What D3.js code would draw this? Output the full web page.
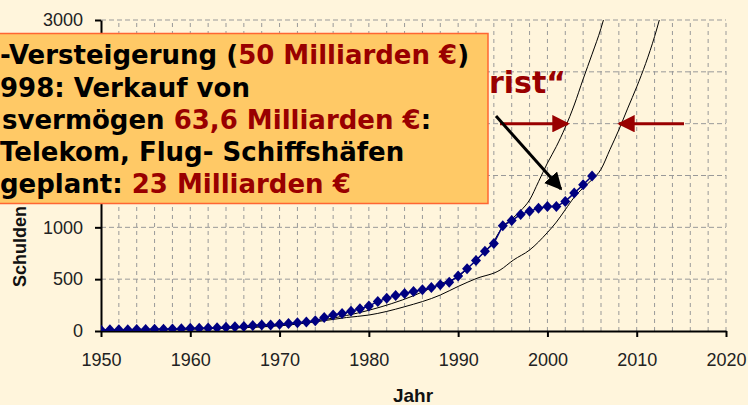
<!DOCTYPE html>
<html>
<head>
<meta charset="utf-8">
<script src="https://cdn.jsdelivr.net/npm/d3@7"></script>
<style>
  html, body { margin: 0; padding: 0; background: #FFF5DC; overflow: hidden; }
  svg { display: block; }
</style>
</head>
<body>
<svg id="chart" width="748" height="405"></svg>
<script>
// ---------------- data ----------------
const years = d3.range(1950, 2006);
const debt = [10, 11, 12, 13, 14, 15, 16, 17, 20, 22,
              26, 27, 29, 31, 35, 40, 44, 52, 57, 59,
              64, 72, 80, 87, 98, 130, 155, 170, 190, 215,
              240, 285, 315, 342, 362, 380, 398, 420, 445, 470,
              530, 600, 680, 770, 845, 1015, 1065, 1125, 1155, 1185,
              1200, 1200, 1250, 1330, 1410, 1495];

// trend curve A (steeper)
const trendAYears  = [1950, 1960, 1970, 1975, 1980, 1985, 1988, 1990, 1992, 1994, 1995, 1996, 1997, 1998, 1999, 2000, 2001, 2002, 2003, 2004, 2005, 2006, 2006.6];
const trendAValues = [5, 20, 55, 110, 200, 340, 455, 525, 685, 870, 1006, 1080, 1160, 1264, 1440, 1620, 1780, 1965, 2180, 2430, 2670, 2920, 3100];

// trend curve B (flatter)
const trendBYears  = [1950, 1960, 1970, 1975, 1977.5, 1980, 1984, 1988, 1990, 1992, 1994.7, 1996.2, 1998, 2000, 2001, 2002, 2003, 2004, 2005, 2006, 2007, 2008, 2009, 2010, 2011, 2012, 2013];
const trendBValues = [5, 18, 50, 100, 130, 154, 234, 347, 430, 505, 588, 685, 781, 950, 1050, 1170, 1290, 1380, 1460, 1560, 1750, 1940, 2150, 2355, 2580, 2840, 3150];

const xTicks = [1950, 1960, 1970, 1980, 1990, 2000, 2010, 2020];
const yTicks = [0, 500, 1000, 1500, 2000, 2500, 3000];
const yLabelled = [0, 500, 1000, 3000];   // the others are covered by the text box
const xGrid = d3.range(1952, 2021, 2);

const boxLines = [
  [["-Versteigerung (", "#000"], ["50 Milliarden €", "#990000"], [")", "#000"]],
  [["998: Verkauf von", "#000"]],
  [["svermögen ", "#000"], ["63,6 Milliarden €", "#990000"], [":", "#000"]],
  [["Telekom, Flug- Schiffshäfen", "#000"]],
  [["geplant: ", "#000"], ["23 Milliarden €", "#990000"]]
];
const titleFragment = "rist\u201C";
const xTitle = "Jahr";
const yTitle = "Schulden";

// ---------------- layout ----------------
const svg = d3.select("#chart");
const x = d3.scaleLinear().domain([1950, 2020]).range([101, 726]);
const y = d3.scaleLinear().domain([0, 3000]).range([331, 20]);

const defs = svg.append("defs");
defs.append("clipPath").attr("id", "plotclip")
  .append("rect").attr("x", x(1950)).attr("y", y(3000))
  .attr("width", x(2020) - x(1950)).attr("height", y(0) - y(3000));

// grid
const grid = svg.append("g");
grid.selectAll("line.v").data(xGrid).join("line")
  .attr("x1", d => x(d)).attr("x2", d => x(d))
  .attr("y1", y(0)).attr("y2", y(3000))
  .attr("stroke", "#999").attr("stroke-width", 1).attr("stroke-dasharray", "4,4");
grid.selectAll("line.h").data(yTicks.filter(d => d > 0)).join("line")
  .attr("x1", x(1950)).attr("x2", x(2020))
  .attr("y1", d => y(d)).attr("y2", d => y(d))
  .attr("stroke", "#999").attr("stroke-width", 1).attr("stroke-dasharray", "5,3");

// axes
const xAxis = svg.append("g").attr("transform", `translate(0,${y(0)})`)
  .call(d3.axisBottom(x).tickValues(xTicks).tickFormat(d3.format("d")).tickSize(6).tickPadding(16).tickSizeOuter(0));
const yAxis = svg.append("g").attr("transform", `translate(${x(1950)},0)`)
  .call(d3.axisLeft(y).tickValues(yTicks)
    .tickFormat(d => yLabelled.includes(d) ? d3.format("d")(d) : "")
    .tickSize(6).tickPadding(12).tickSizeOuter(0));
yAxis.selectAll(".tick text").filter(function() { return this.textContent === ""; }).remove();
[xAxis, yAxis].forEach(a => {
  a.select(".domain").attr("stroke", "#000").attr("stroke-width", 2);
  a.selectAll(".tick line").attr("stroke", "#000").attr("stroke-width", 2);
  a.selectAll(".tick text").attr("fill", "#222")
    .style("font-family", "Liberation Sans, Arial, sans-serif").style("font-size", "18px");
});

// trend lines
const plot = svg.append("g").attr("clip-path", "url(#plotclip)");
const lineGen = d3.line().x(d => x(d[0])).y(d => y(d[1])).curve(d3.curveMonotoneX);
plot.append("path").datum(trendBYears.map((d, i) => [d, trendBValues[i]]))
  .attr("d", lineGen).attr("fill", "none").attr("stroke", "#000").attr("stroke-width", 1);
plot.append("path").datum(trendAYears.map((d, i) => [d, trendAValues[i]]))
  .attr("d", lineGen).attr("fill", "none").attr("stroke", "#000").attr("stroke-width", 1);

// data series
const dataPts = years.map((d, i) => [d, debt[i]]);
plot.append("path").datum(dataPts)
  .attr("d", d3.line().x(d => x(d[0])).y(d => y(d[1])))
  .attr("fill", "none").attr("stroke", "#000080").attr("stroke-width", 1.5);
plot.selectAll("path.dia").data(dataPts).join("path")
  .attr("class", "dia")
  .attr("transform", d => `translate(${x(d[0])},${y(d[1])})`)
  .attr("d", "M0,-5.5L5,0L0,5.5L-5,0Z")
  .attr("fill", "#000080");

// axis titles
svg.append("text").attr("x", 413).attr("y", 402).attr("text-anchor", "middle")
  .style("font-family", "Liberation Sans, Arial, sans-serif").style("font-size", "19px")
  .style("font-weight", "bold").attr("fill", "#111").text(xTitle);
svg.append("text").attr("transform", "translate(26,287) rotate(-90)")
  .style("font-family", "Liberation Sans, Arial, sans-serif").style("font-size", "18px")
  .style("font-weight", "bold").attr("fill", "#111").text(yTitle);

// red title fragment
svg.append("text").attr("x", 489).attr("y", 93)
  .style("font-family", "DejaVu Sans, Verdana, sans-serif").style("font-size", "30px")
  .style("font-weight", "bold").attr("fill", "#990000").text(titleFragment);

// arrows
function arrowHead(id, color) {
  defs.append("marker").attr("id", id).attr("viewBox", "0 0 10 10")
    .attr("refX", 9).attr("refY", 5).attr("markerWidth", 5.8).attr("markerHeight", 5.8)
    .attr("markerUnits", "strokeWidth").attr("orient", "auto")
    .append("path").attr("d", "M0,0L10,5L0,10Z").attr("fill", color);
}
arrowHead("ahRed", "#990000");
arrowHead("ahBlack", "#000");
svg.append("line").attr("x1", 500).attr("y1", y(2000)).attr("x2", 568).attr("y2", y(2000))
  .attr("stroke", "#990000").attr("stroke-width", 3).attr("marker-end", "url(#ahRed)");
svg.append("line").attr("x1", 684).attr("y1", y(2000)).attr("x2", 619).attr("y2", y(2000))
  .attr("stroke", "#990000").attr("stroke-width", 3).attr("marker-end", "url(#ahRed)");
svg.append("line").attr("x1", 496).attr("y1", 116).attr("x2", 561).attr("y2", 189)
  .attr("stroke", "#000").attr("stroke-width", 3).attr("marker-end", "url(#ahBlack)");

// text box
svg.append("rect").attr("x", -10).attr("y", 33.5).attr("width", 498).attr("height", 170)
  .attr("fill", "#FFC966").attr("stroke", "#FF6633").attr("stroke-width", 1.5);
const baselines = [64, 97, 129, 161, 193];
const lineStarts = [0, 0, 2, 0, 0];
boxLines.forEach((line, i) => {
  const t = svg.append("text").attr("x", lineStarts[i]).attr("y", baselines[i])
    .style("font-family", "DejaVu Sans, Verdana, sans-serif").style("font-size", "26px")
    .style("font-weight", "bold");
  line.forEach(([s, c]) => t.append("tspan").text(s).attr("fill", c));
});
</script>
</body>
</html>
